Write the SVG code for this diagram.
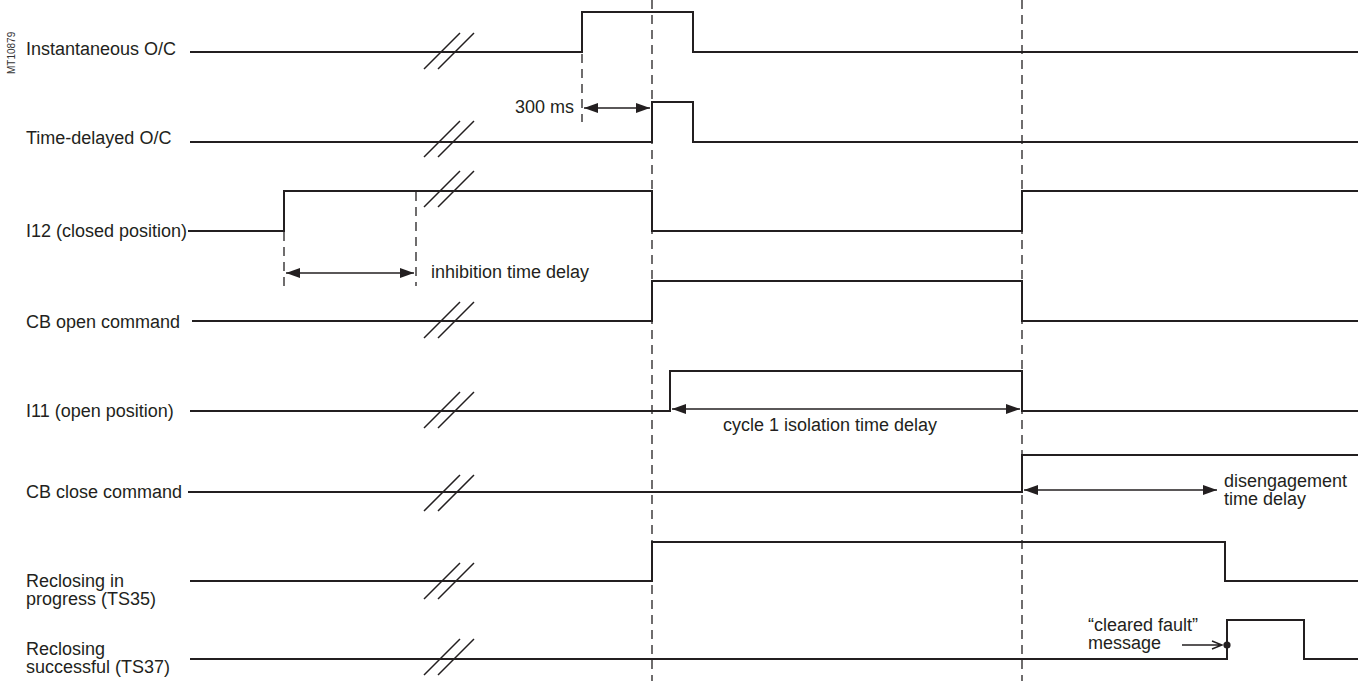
<svg xmlns="http://www.w3.org/2000/svg" width="1363" height="681" viewBox="0 0 1363 681">
<style>
text{font-family:"Liberation Sans",Arial,sans-serif;font-size:18px;fill:#231f20}
.sig{fill:none;stroke:#231f20;stroke-width:2;stroke-linejoin:miter}
.brk{fill:none;stroke:#231f20;stroke-width:1.5}
.dash{fill:none;stroke:#231f20;stroke-width:1.3;stroke-dasharray:9 6}
.arr{fill:none;stroke:#231f20;stroke-width:1.4;marker-start:url(#ah);marker-end:url(#ah)}
.thin{fill:none;stroke:#231f20;stroke-width:1.4}
</style>
<defs>
<marker id="ah" markerUnits="userSpaceOnUse" markerWidth="15" markerHeight="11" refX="14" refY="5" orient="auto-start-reverse" viewBox="0 0 15 11">
<path d="M0,0 L14,5 L0,10 z" fill="#231f20"/>
</marker>
<g id="slash"><path class="brk" d="M424,17 L460,-19 M438,17 L474,-19"/></g>
</defs>
<rect width="1363" height="681" fill="#ffffff"/>
<text x="15" y="74" transform="rotate(-90 15 74)" style="font-size:10px;fill:#333">MT10879</text>

<g id="connectors">
<path class="dash" d="M652,0 V681"/>
<path class="dash" d="M1022,0 V681"/>
<path class="dash" d="M582,54 V122"/>
<path class="dash" d="M284,232 V286"/>
<path class="dash" d="M416,192 V286"/>
<path class="arr" d="M584,108 H650"/>
<path class="arr" d="M286,273 H414"/>
<path class="arr" d="M672,409 H1020"/>
<path class="arr" d="M1024,490 H1217"/>
<path class="thin" d="M1182,645 H1222 M1212,641 L1222,645 L1212,649"/>
<circle cx="1227" cy="645" r="3.6" fill="#231f20"/>
</g>

<g id="sig-inst">
<text x="26" y="55">Instantaneous O/C</text>
<path class="sig" d="M190,52 H582 V12 H693 V52 H1358"/>
<use href="#slash" y="52"/>
</g>
<g id="sig-timedelayed">
<text x="26" y="144">Time-delayed O/C</text>
<path class="sig" d="M190,142 H652 V102 H693 V142 H1358"/>
<use href="#slash" y="140"/>
<text x="574" y="113" text-anchor="end">300 ms</text>
</g>
<g id="sig-i12">
<text x="26" y="237">I12 (closed position)</text>
<path class="sig" d="M188,231 H284 V191 H652 V231 H1022 V191 H1358"/>
<use href="#slash" y="190"/>
<text x="431" y="278">inhibition time delay</text>
</g>
<g id="sig-cbopen">
<text x="26" y="328">CB open command</text>
<path class="sig" d="M192,321 H652 V281 H1022 V321 H1358"/>
<use href="#slash" y="321"/>
</g>
<g id="sig-i11">
<text x="26" y="417">I11 (open position)</text>
<path class="sig" d="M190,411 H670 V371 H1022 V411 H1358"/>
<use href="#slash" y="411"/>
<text x="830" y="431" text-anchor="middle">cycle 1 isolation time delay</text>
</g>
<g id="sig-cbclose">
<text x="26" y="498">CB close command</text>
<path class="sig" d="M188,492 H1022 V455 H1358"/>
<use href="#slash" y="494"/>
<text x="1224" y="487">disengagement</text>
<text x="1224" y="505">time delay</text>
</g>
<g id="sig-recl-progress">
<text x="26" y="587">Reclosing in</text>
<text x="26" y="605">progress (TS35)</text>
<path class="sig" d="M190,581 H652 V542 H1225 V581 H1358"/>
<use href="#slash" y="582"/>
</g>
<g id="sig-recl-success">
<text x="26" y="655">Reclosing</text>
<text x="26" y="673">successful (TS37)</text>
<path class="sig" d="M190,659 H1227 V620 H1304 V659 H1358"/>
<use href="#slash" y="658"/>
<text x="1088" y="631">“cleared fault”</text>
<text x="1088" y="649">message</text>
</g>
</svg>
